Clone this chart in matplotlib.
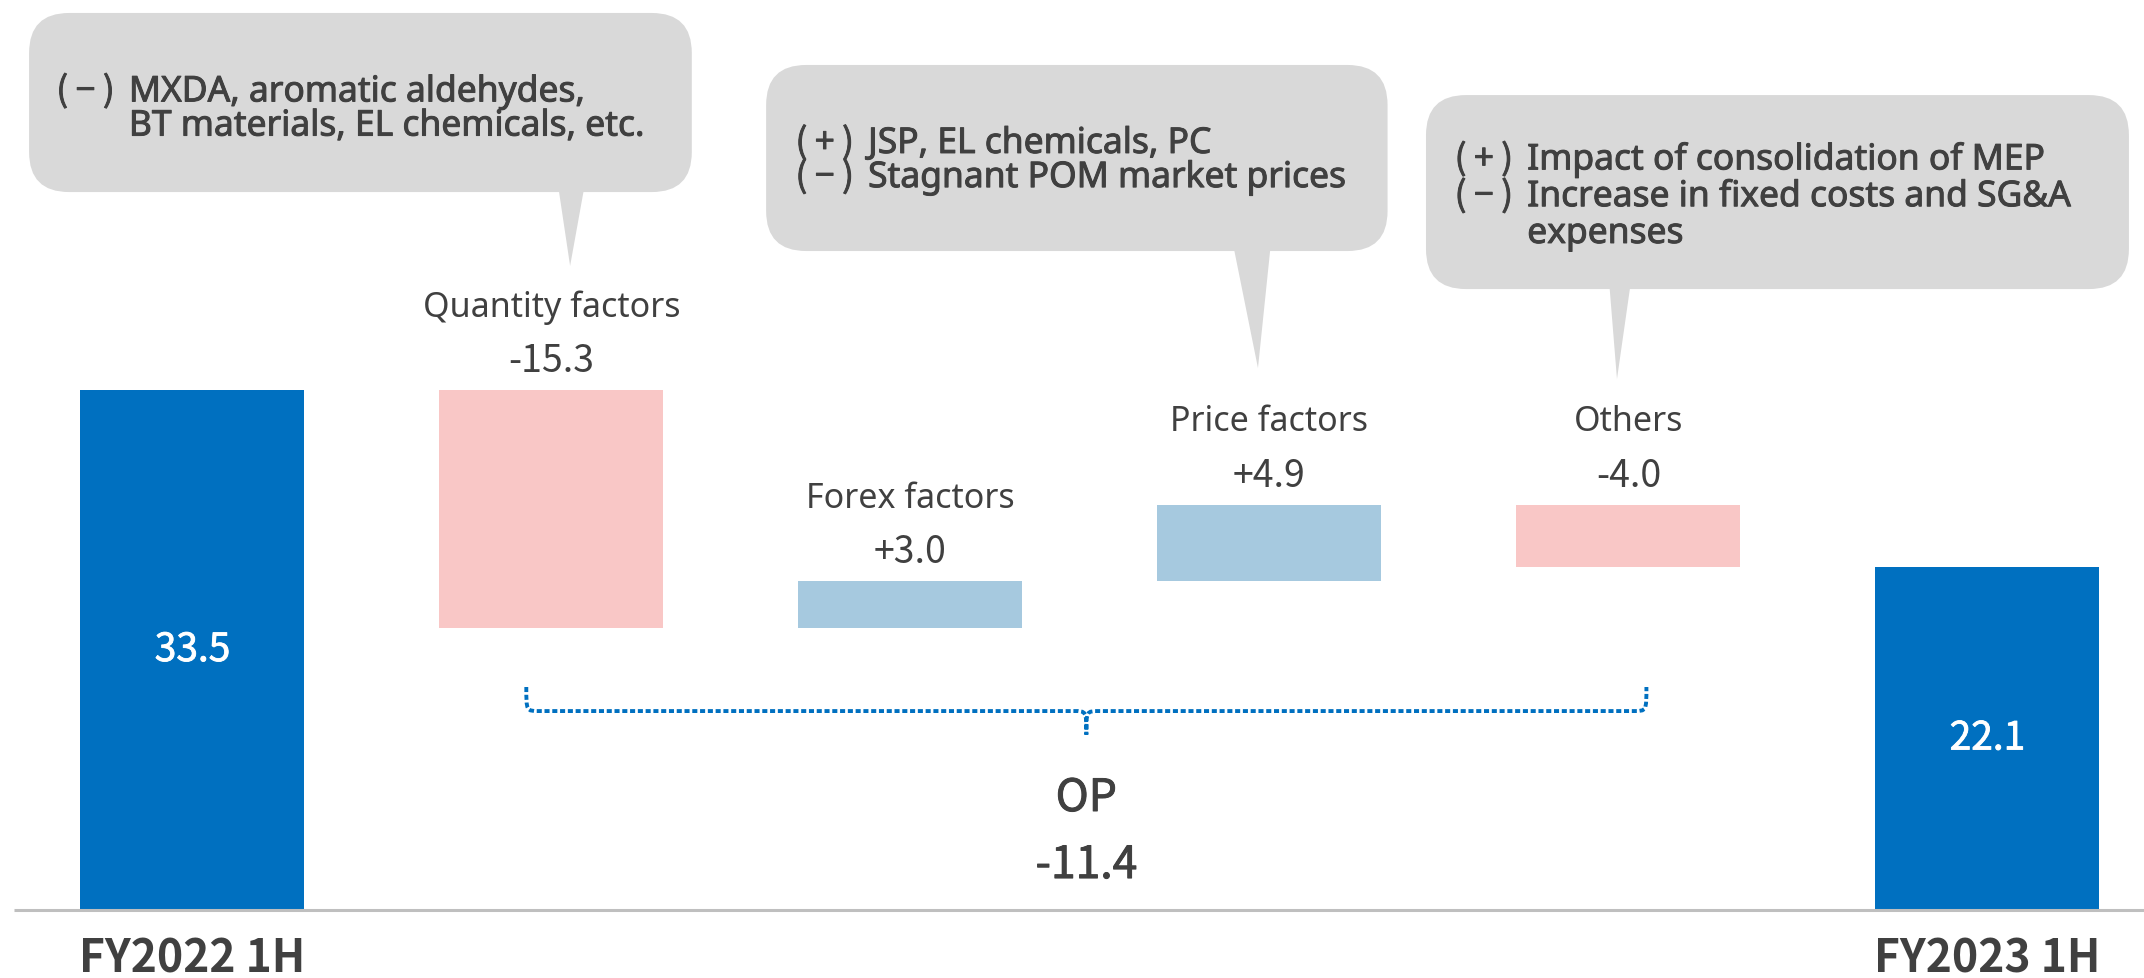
import matplotlib.pyplot as plt
import matplotlib.patheffects as pe
from matplotlib.patches import FancyBboxPatch, Polygon, PathPatch
from matplotlib.path import Path

plt.rcParams['font.family'] = ['Noto Sans CJK JP', 'DejaVu Sans']
WIDE = ['Noto Sans', 'DejaVu Sans']

# ---- data ----
categories = ["FY2022 1H", "Quantity factors", "Forex factors", "Price factors", "Others", "FY2023 1H"]
op_start = 33.5
factor_deltas = [-15.3, 3.0, 4.9, -4.0]
op_end = 22.1
op_change = -11.4

callout_lines = [
    [("( − )", "MXDA, aromatic aldehydes,"), ("", "BT materials, EL chemicals, etc.")],
    [("( + )", "JSP, EL chemicals, PC"), ("( − )", "Stagnant POM market prices")],
    [("( + )", "Impact of consolidation of MEP"), ("( − )", "Increase in fixed costs and SG&A"), ("", "expenses")],
]

BLUE = "#0070C0"
PINK = "#F9C7C6"
LBLUE = "#A6C9DF"
GRAY = "#D9D9D9"
TXT = "#404040"

W, H = 2144, 979
fig = plt.figure(figsize=(W / 100, H / 100), dpi=100)
ax = fig.add_axes([0, 0, 1, 1])
xlim = (-0.536, 5.436)
ylim = (-4.38, 58.70)
ax.set_xlim(*xlim)
ax.set_ylim(*ylim)
ax.axis('off')
px_x = W / (xlim[1] - xlim[0])   # pixels per x unit
px_y = H / (ylim[1] - ylim[0])   # pixels per y unit

semibold = [pe.withStroke(linewidth=0.7, foreground=TXT)]

# ---- waterfall bars ----
bottoms = [0]
heights = [op_start]
colors = [BLUE]
running = op_start
for d in factor_deltas:
    new = running + d
    bottoms.append(min(running, new))
    heights.append(abs(d))
    colors.append(PINK if d < 0 else LBLUE)
    running = new
bottoms.append(0)
heights.append(op_end)
colors.append(BLUE)

xs = list(range(len(categories)))
ax.bar(xs, heights, bottom=bottoms, width=0.624, color=colors, zorder=2)

ax.plot([-0.497, xlim[1]], [0, 0], color="#BFBFBF", lw=2.2, zorder=3, solid_capstyle='butt')

# totals inside the blue bars + category under axis
for i, v in [(0, op_start), (5, op_end)]:
    ax.text(xs[i], v / 2, f"{v:.1f}", color="white", fontsize=28, ha="center", va="center", zorder=4,
            path_effects=[pe.withStroke(linewidth=0.6, foreground="white")])
    ax.text(xs[i], -3.95, categories[i], color=TXT, fontsize=32, fontweight="bold",
            ha="center", va="baseline")

# factor labels
for k, d in enumerate(factor_deltas):
    i = k + 1
    top = bottoms[i] + heights[i]
    ax.text(xs[i], top + 1.25, f"{d:+.1f}", color=TXT, fontsize=27, ha="center", va="baseline")
    ax.text(xs[i], top + 4.8, categories[i], color=TXT, fontsize=24.5, family=WIDE,
            ha="center", va="baseline")

# ---- brace over the factors ----
bx0, bx1 = 0.93, 4.05
bxc = (bx0 + bx1) / 2
ytop, yline, ytip = 14.37, 12.82, 11.3
r = 0.035
verts = [(bx0, ytop), (bx0, yline), (bx0, yline), (bx0 + r, yline),
         (bxc - r, yline),
         (bxc, yline), (bxc, yline), (bxc, ytip),
         (bxc, yline), (bxc, yline), (bxc + r, yline),
         (bx1 - r, yline),
         (bx1, yline), (bx1, yline), (bx1, ytop)]
codes = [Path.MOVETO, Path.CURVE4, Path.CURVE4, Path.CURVE4,
         Path.LINETO,
         Path.CURVE4, Path.CURVE4, Path.CURVE4,
         Path.CURVE4, Path.CURVE4, Path.CURVE4,
         Path.LINETO,
         Path.CURVE4, Path.CURVE4, Path.CURVE4]
ax.add_patch(PathPatch(Path(verts, codes), fill=False, edgecolor=BLUE, lw=2.8,
                       linestyle=(0, (1.3, 0.7)), zorder=3))

ax.text(bxc, 6.38, "OP", color=TXT, fontsize=32, ha="center", va="baseline",
        path_effects=semibold)
ax.text(bxc, 2.06, f"{op_change:.1f}", color=TXT, fontsize=32, ha="center", va="baseline",
        path_effects=semibold)

# ---- callouts ----
boxes = [
    dict(x0=-0.455, x1=1.391, y0=46.26, y1=57.80, tail=(1.018, 1.093, 1.052, 41.5),
         tx=-0.364, ty=[52.1, 49.9]),
    dict(x0=1.598, x1=3.329, y0=42.46, y1=54.45, tail=(2.898, 3.004, 2.968, 34.92),
         tx=1.695, ty=[48.78, 46.58]),
    dict(x0=3.436, x1=5.394, y0=40.01, y1=52.51, tail=(3.946, 4.007, 3.968, 34.21),
         tx=3.531, ty=[47.72, 45.35, 42.98]),
]
rad = 40 / px_x
for b, lines in zip(boxes, callout_lines):
    ax.add_patch(FancyBboxPatch((b["x0"], b["y0"]), b["x1"] - b["x0"], b["y1"] - b["y0"],
                                boxstyle=f"round,pad=0,rounding_size={rad}",
                                mutation_aspect=px_x / px_y, fc=GRAY, ec="none", zorder=1))
    t0, t1, tipx, tipy = b["tail"]
    ax.add_patch(Polygon([(t0, b["y0"] + 0.5), (t1, b["y0"] + 0.5), (tipx, tipy)],
                         closed=True, fc=GRAY, ec="none", zorder=1))
    for (pre, body), y in zip(lines, b["ty"]):
        if pre:
            ax.text(b["tx"] - 0.015, y, pre, color=TXT, fontsize=25,
                    ha="left", va="baseline", zorder=4, path_effects=semibold)
        ax.text(b["tx"] + 0.187, y, body, color=TXT, fontsize=25.5, family=WIDE,
                ha="left", va="baseline", zorder=4, path_effects=semibold)

fig.savefig("out.png", dpi=100)
